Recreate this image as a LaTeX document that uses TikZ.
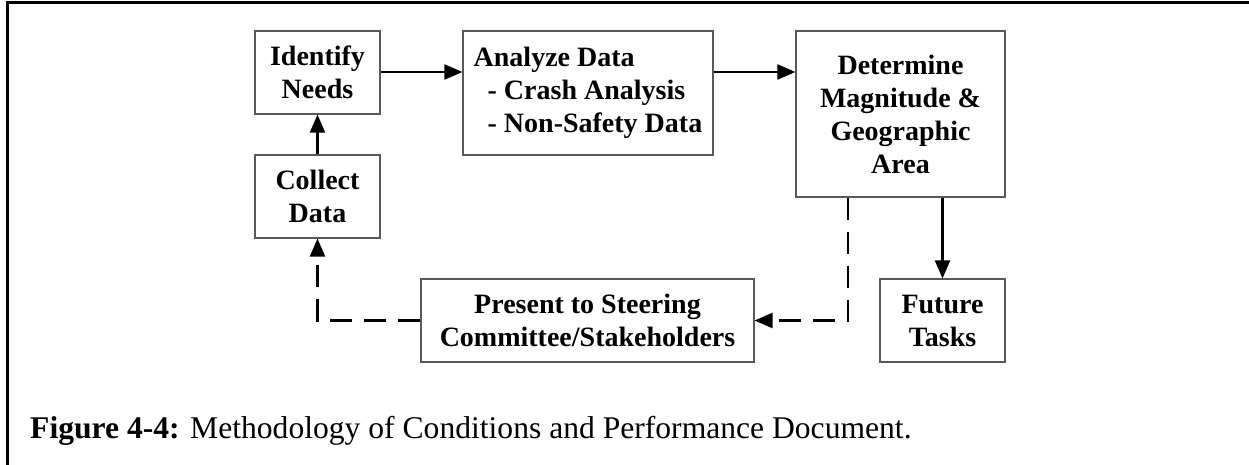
\documentclass[tikz,border=0pt]{standalone}
\usepackage{fontspec}
\setmainfont{Liberation Serif}
\usetikzlibrary{arrows.meta}
\begin{document}
\begin{tikzpicture}[x=1pt,y=-1pt,
  stepbox/.style={draw=black!65,line width=1.1pt,inner sep=0pt,align=center,
    font=\fontsize{28}{33}\selectfont\bfseries},
  flow/.style={line width=2.2pt,-{Triangle[length=18pt,width=15pt]}},
  loop/.style={flow,dash pattern=on 22pt off 12pt}]
\useasboundingbox (0,0) rectangle (1249,465);
% frame
\draw[line width=3pt] (7.5,465) -- (7.5,2.5) -- (1249,2.5);
% process steps
\node[stepbox,minimum width=125pt,minimum height=83pt] (ident) at (317.5,72.5) {Identify\\Needs};
\node[stepbox,minimum width=125pt,minimum height=83pt] (collect) at (317.5,196.5) {Collect\\Data};
\node[stepbox,minimum width=250pt,minimum height=124pt,align=left] (analyze) at (588,93)
  {Analyze Data\\\hspace*{14pt}- Crash Analysis\\\hspace*{14pt}- Non-Safety Data};
\node[stepbox,minimum width=209pt,minimum height=166pt] (determine) at (900.5,114)
  {Determine\\Magnitude \&\\Geographic\\Area};
\node[stepbox,minimum width=125pt,minimum height=83pt] (future) at (942.5,320.5) {Future\\Tasks};
\node[stepbox,minimum width=333pt,minimum height=83pt] (present) at (587.5,320.5)
  {Present to Steering\\Committee/Stakeholders};
% connectors
\coordinate (row) at (0,72);
\coordinate (drop) at (848,0);
\coordinate (back) at (317.5,0);
\draw[flow] (ident.east |- row) -- (analyze.west |- row);
\draw[flow] (analyze.east |- row) -- (determine.west |- row);
\draw[flow] (collect) -- (ident);
\draw[flow] (future.north |- determine.south) -- (future.north);
\draw[loop] (drop |- determine.south) -- (drop |- present.east) -- (present.east);
\draw[loop] (present.west) -- (back |- present.west) -- (collect.south);
% caption
\node[anchor=base west,inner sep=0pt,font=\fontsize{31.6}{38}\selectfont] (caption) at (30,438)
  {\textbf{Figure 4-4:} Methodology of Conditions and Performance Document.};
\end{tikzpicture}
\end{document}
